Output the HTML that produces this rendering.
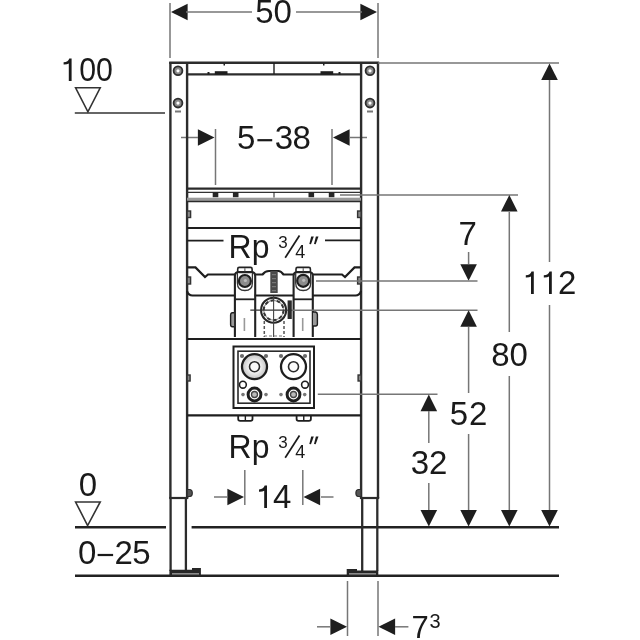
<!DOCTYPE html>
<html><head><meta charset="utf-8"><style>
html,body{margin:0;padding:0;background:#fff;}
svg{display:block;filter:blur(0.45px);font-family:"Liberation Sans",sans-serif;}
text{fill:#1a1a1a;}
</style></head><body>
<svg width="640" height="640" viewBox="0 0 640 640">
<rect width="640" height="640" fill="#fff"/>
<line x1="170" y1="3" x2="170" y2="58" stroke="#767676" stroke-width="1.5"/>
<line x1="378" y1="3" x2="378" y2="58" stroke="#767676" stroke-width="1.5"/>
<polygon points="171,12 187.6,3.6999999999999993 187.6,20.3" fill="#1e1e1e" stroke="none" stroke-width="1"/>
<polygon points="377,12 360.4,3.6999999999999993 360.4,20.3" fill="#1e1e1e" stroke="none" stroke-width="1"/>
<line x1="186" y1="12" x2="252" y2="12" stroke="#767676" stroke-width="1.5"/>
<line x1="296" y1="12" x2="362" y2="12" stroke="#767676" stroke-width="1.5"/>
<text x="255.2" y="23" font-size="33" text-anchor="start" >50</text>
<line x1="215.5" y1="129" x2="215.5" y2="185" stroke="#767676" stroke-width="1.5"/>
<line x1="332" y1="129" x2="332" y2="185" stroke="#767676" stroke-width="1.5"/>
<polygon points="214.5,137.5 197.9,129.2 197.9,145.8" fill="#1e1e1e" stroke="none" stroke-width="1"/>
<polygon points="333,137.5 349.6,129.2 349.6,145.8" fill="#1e1e1e" stroke="none" stroke-width="1"/>
<line x1="181" y1="137.5" x2="198" y2="137.5" stroke="#767676" stroke-width="1.5"/>
<line x1="350" y1="137.5" x2="367" y2="137.5" stroke="#767676" stroke-width="1.5"/>
<text x="237.1" y="149" font-size="33" text-anchor="start" >5</text>
<rect x="257.4" y="139.1" width="14.8" height="2.2" fill="#1a1a1a"/>
<text x="274.7" y="149" font-size="33" text-anchor="start" letter-spacing="-0.5">38</text>
<path d="M71.60000000000001,81 L71.60000000000001,58.4 L69.3,58.4 Q68.3,62.0 63.6,62.3 L63.6,64.6 Q67.2,64.7 68.8,63.6 L68.8,81 Z" fill="#1a1a1a"/>
<text x="79.19999999999999" y="81" font-size="33" text-anchor="start" textLength="33.7" lengthAdjust="spacingAndGlyphs">00</text>
<polygon points="75.6,87.8 100.2,87.8 87.9,111.8" fill="none" stroke="#333" stroke-width="1.6"/>
<line x1="74.8" y1="113" x2="165" y2="113" stroke="#333" stroke-width="1.6"/>
<text x="78.7" y="495.5" font-size="33" text-anchor="start" >0</text>
<polygon points="75.6,502 100.2,502 87.6,525.6" fill="none" stroke="#333" stroke-width="1.6"/>
<line x1="75" y1="527.2" x2="166" y2="527.2" stroke="#222" stroke-width="2.5"/>
<line x1="191.6" y1="527.2" x2="559" y2="527.2" stroke="#222" stroke-width="2.5"/>
<text x="78.1" y="563.8" font-size="33" text-anchor="start" >0</text>
<rect x="97.6" y="553.9" width="15.5" height="2.2" fill="#1a1a1a"/>
<text x="114.4" y="563.8" font-size="33" text-anchor="start" letter-spacing="-0.5">25</text>
<line x1="75" y1="575.8" x2="559" y2="575.8" stroke="#222" stroke-width="2.5"/>
<line x1="170.4" y1="62" x2="170.4" y2="498" stroke="#2c2c2c" stroke-width="2.4"/>
<line x1="187.1" y1="62" x2="187.1" y2="498" stroke="#2c2c2c" stroke-width="2.4"/>
<line x1="361.1" y1="62" x2="361.1" y2="498" stroke="#2c2c2c" stroke-width="2.4"/>
<line x1="378" y1="62" x2="378" y2="498" stroke="#2c2c2c" stroke-width="2.4"/>
<line x1="169.2" y1="62.8" x2="379.2" y2="62.8" stroke="#2c2c2c" stroke-width="2.4"/>
<line x1="187.1" y1="74.3" x2="361.1" y2="74.3" stroke="#2c2c2c" stroke-width="2.2"/>
<line x1="169.2" y1="498" x2="188.3" y2="498" stroke="#2c2c2c" stroke-width="2.2"/>
<line x1="359.9" y1="498" x2="379.2" y2="498" stroke="#2c2c2c" stroke-width="2.2"/>
<line x1="274" y1="63" x2="274" y2="74" stroke="#1e1e1e" stroke-width="1.4"/>
<rect x="214.8" y="71.2" width="12.7" height="3.4" fill="#1e1e1e"/>
<rect x="207.5" y="72" width="2" height="2.5" fill="#1e1e1e"/>
<rect x="223.5" y="63.5" width="1.5" height="2" fill="#1e1e1e"/>
<rect x="320.5" y="71.2" width="12.7" height="3.4" fill="#1e1e1e"/>
<rect x="338.5" y="72" width="2" height="2.5" fill="#1e1e1e"/>
<rect x="323" y="63.5" width="1.5" height="2" fill="#1e1e1e"/>
<circle cx="178" cy="70.8" r="4.4" stroke="#2e2e2e" stroke-width="1.8" fill="#8a8a8a" />
<circle cx="178" cy="70.8" r="1.6" stroke="none" stroke-width="0" fill="#fff" />
<circle cx="178" cy="103.1" r="4.4" stroke="#2e2e2e" stroke-width="1.8" fill="#8a8a8a" />
<circle cx="178" cy="103.1" r="1.6" stroke="none" stroke-width="0" fill="#fff" />
<rect x="175" y="110.5" width="6" height="2" fill="#777"/>
<circle cx="370" cy="70.8" r="4.4" stroke="#2e2e2e" stroke-width="1.8" fill="#8a8a8a" />
<circle cx="370" cy="70.8" r="1.6" stroke="none" stroke-width="0" fill="#fff" />
<circle cx="370" cy="103.1" r="4.4" stroke="#2e2e2e" stroke-width="1.8" fill="#8a8a8a" />
<circle cx="370" cy="103.1" r="1.6" stroke="none" stroke-width="0" fill="#fff" />
<rect x="367" y="110.5" width="6" height="2" fill="#777"/>
<rect x="187.1" y="211" width="3.5" height="6.5" rx="0" stroke="#333" stroke-width="1.4" fill="#888"/>
<rect x="357.6" y="211" width="3.5" height="6.5" rx="0" stroke="#333" stroke-width="1.4" fill="#888"/>
<rect x="187.1" y="277" width="3.5" height="7" rx="0" stroke="#333" stroke-width="1.4" fill="#888"/>
<rect x="357.6" y="277" width="3.5" height="7" rx="0" stroke="#333" stroke-width="1.4" fill="#888"/>
<rect x="187.1" y="375" width="3" height="6" rx="0" stroke="#333" stroke-width="1.4" fill="#888"/>
<rect x="358.1" y="375" width="3" height="6" rx="0" stroke="#333" stroke-width="1.4" fill="#888"/>
<path d="M187.1,489.5 L190,489.5 Q192.3,490 192.3,493 Q192.3,496.5 190,496.5 L187.1,496.5 Z" stroke="#2c2c2c" stroke-width="1.2" fill="#555" />
<path d="M361.1,489.5 L358.2,489.5 Q355.9,490 355.9,493 Q355.9,496.5 358.2,496.5 L361.1,496.5 Z" stroke="#2c2c2c" stroke-width="1.2" fill="#555" />
<line x1="170.6" y1="498" x2="170.6" y2="571" stroke="#2c2c2c" stroke-width="2.3"/>
<line x1="185.9" y1="498" x2="185.9" y2="571" stroke="#2c2c2c" stroke-width="2.3"/>
<line x1="362.2" y1="498" x2="362.2" y2="571" stroke="#2c2c2c" stroke-width="2.3"/>
<line x1="377.3" y1="498" x2="377.3" y2="571" stroke="#2c2c2c" stroke-width="2.3"/>
<path d="M169.4,576 L169.4,569.8 L192,569.8 L192,568 L200.9,568 L200.9,576 Z" stroke="none" stroke-width="0" fill="#262626" />
<rect x="172" y="573" width="27" height="1.6" fill="#8a8a8a"/>
<path d="M346.7,576 L346.7,568.9 L357,568.9 L357,570.4 L378.3,570.4 L378.3,576 Z" stroke="none" stroke-width="0" fill="#262626" />
<rect x="349" y="573" width="27" height="1.6" fill="#8a8a8a"/>
<line x1="187.1" y1="188.6" x2="361.1" y2="188.6" stroke="#2a2a2a" stroke-width="2.4"/>
<line x1="187.1" y1="192.4" x2="361.1" y2="192.4" stroke="#333" stroke-width="1.1"/>
<rect x="187" y="197.7" width="174" height="3.2" fill="#999"/>
<line x1="187.1" y1="201.6" x2="361.1" y2="201.6" stroke="#2a2a2a" stroke-width="1.5"/>
<rect x="212.7" y="192" width="5.6" height="5.2" fill="#262626"/>
<rect x="232.89999999999998" y="192" width="5.6" height="5.2" fill="#262626"/>
<rect x="308.5" y="192" width="5.6" height="5.2" fill="#262626"/>
<rect x="328.8" y="192" width="5.6" height="5.2" fill="#262626"/>
<line x1="274" y1="192" x2="274" y2="197.5" stroke="#1e1e1e" stroke-width="1"/>
<line x1="187.1" y1="228" x2="361.1" y2="228" stroke="#1e1e1e" stroke-width="2.2"/>
<text x="228.6" y="257.7" font-size="33" text-anchor="start" textLength="40.8" lengthAdjust="spacingAndGlyphs">Rp</text>
<text x="278.3" y="248.2" font-size="17" text-anchor="start" >3</text>
<text x="295.2" y="257.9" font-size="18" text-anchor="start" >4</text>
<line x1="285.2" y1="257.8" x2="299.5" y2="235.5" stroke="#1a1a1a" stroke-width="1.7"/>
<path d="M309.3,244 L311.2,236.6 L313.8,236.6 L311.0,244.2 Z" stroke="none" stroke-width="0" fill="#1a1a1a" />
<path d="M314.0,244 L315.9,236.6 L318.5,236.6 L315.7,244.2 Z" stroke="none" stroke-width="0" fill="#1a1a1a" />
<line x1="187" y1="240.6" x2="223.5" y2="240.6" stroke="#1e1e1e" stroke-width="1.6"/>
<line x1="325" y1="240.4" x2="361" y2="240.4" stroke="#1e1e1e" stroke-width="1.6"/>
<path d="M187,267.4 L195.5,267.4 L205,277 L208,274.5 L235.3,274.5" stroke="#1e1e1e" stroke-width="2.2" fill="none" />
<path d="M254.5,274.5 L262.5,274.5 Q265,271 269,271 L278.4,271 Q281,271 283.5,274.5 L293.8,274.5" stroke="#1e1e1e" stroke-width="2.2" fill="none" />
<path d="M312.8,274.5 L342,274.5 L345,277 L354.5,267.4 L361,267.4" stroke="#1e1e1e" stroke-width="2.2" fill="none" />
<path d="M187,291 Q188.5,295.5 192.5,295.5 L234.5,295.5" stroke="#1e1e1e" stroke-width="2.2" fill="none" />
<line x1="254.5" y1="295.5" x2="293.8" y2="295.5" stroke="#1e1e1e" stroke-width="2.2"/>
<path d="M313,295.5 L355.5,295.5 Q359.5,295.5 361,291" stroke="#1e1e1e" stroke-width="2.2" fill="none" />
<rect x="235.9" y="272" width="18.299999999999983" height="65" fill="#fff"/>
<path d="M234.9,337 L234.9,276 Q234.9,272 238.9,272 L251.2,272 Q255.2,272 255.2,276 L255.2,337" stroke="#222" stroke-width="2.1" fill="none" />
<path d="M237.4,273 L237.4,283 Q237.4,290.5 244.9,290.5 Q252.4,290.5 252.4,283 L252.4,273" stroke="#333" stroke-width="1.3" fill="none" />
<rect x="237.70000000000002" y="267.4" width="14.4" height="5" rx="1.5" stroke="#222" stroke-width="1.6" fill="none"/>
<line x1="244.9" y1="268.2" x2="244.9" y2="271.6" stroke="#444" stroke-width="1"/>
<circle cx="244.9" cy="281.0" r="6.0" stroke="#1e1e1e" stroke-width="2.2" fill="#8c8c8c" />
<circle cx="245.4" cy="280.5" r="1.6" stroke="none" stroke-width="0" fill="#bbb" />
<line x1="234.9" y1="299.3" x2="255.2" y2="299.3" stroke="#222" stroke-width="1.8"/>
<line x1="244.4" y1="318" x2="244.4" y2="331" stroke="#999" stroke-width="1.6"/>
<rect x="294.6" y="272" width="17.19999999999999" height="65" fill="#fff"/>
<path d="M293.6,337 L293.6,276 Q293.6,272 297.6,272 L308.8,272 Q312.8,272 312.8,276 L312.8,337" stroke="#222" stroke-width="2.1" fill="none" />
<path d="M295.7,273 L295.7,283 Q295.7,290.5 303.2,290.5 Q310.7,290.5 310.7,283 L310.7,273" stroke="#333" stroke-width="1.3" fill="none" />
<rect x="296.0" y="267.4" width="14.4" height="5" rx="1.5" stroke="#222" stroke-width="1.6" fill="none"/>
<line x1="303.2" y1="268.2" x2="303.2" y2="271.6" stroke="#444" stroke-width="1"/>
<circle cx="303.2" cy="280.8" r="6.0" stroke="#1e1e1e" stroke-width="2.2" fill="#8c8c8c" />
<circle cx="303.7" cy="280.3" r="1.6" stroke="none" stroke-width="0" fill="#bbb" />
<line x1="293.6" y1="299.3" x2="312.8" y2="299.3" stroke="#222" stroke-width="1.8"/>
<line x1="302.7" y1="318" x2="302.7" y2="331" stroke="#999" stroke-width="1.6"/>
<path d="M234.1,312.7 L232,312.7 Q230.6,313 230.6,315 L230.6,324.5 Q230.6,326.7 232.5,326.7 L234.1,326.7" stroke="#1e1e1e" stroke-width="1.4" fill="#999" />
<path d="M313,312 L315.5,312 Q317.4,312.5 317.4,314.5 L317.4,324 Q317.4,326 315.5,326 L313,326" stroke="#1e1e1e" stroke-width="1.4" fill="#999" />
<rect x="270.3" y="271" width="7.4" height="22" fill="#4a4a4a"/>
<rect x="272" y="274" width="4" height="1.2" fill="#777"/>
<rect x="272" y="278" width="4" height="1.2" fill="#777"/>
<rect x="272" y="282" width="4" height="1.2" fill="#777"/>
<rect x="272" y="286" width="4" height="1.2" fill="#777"/>
<rect x="272" y="290" width="4" height="1.2" fill="#777"/>
<circle cx="273.6" cy="310.2" r="12.5" stroke="#262626" stroke-width="2.1" fill="none" />
<circle cx="273.6" cy="310.2" r="9.9" stroke="#999" stroke-width="1.2" fill="none" />
<circle cx="273.6" cy="310.2" r="9.9" stroke="#333" stroke-width="2.0" fill="none" stroke-dasharray="3.5 2.7"/>
<line x1="250.3" y1="310.2" x2="287" y2="310.2" stroke="#333" stroke-width="1.2"/>
<line x1="287" y1="310.2" x2="477.5" y2="310.2" stroke="#767676" stroke-width="1.5"/>
<line x1="273.6" y1="296" x2="273.6" y2="337" stroke="#444" stroke-width="1.1"/>
<rect x="287.6" y="300.4" width="4.2" height="18.6" fill="#2a2a2a"/>
<line x1="264.3" y1="321" x2="264.3" y2="337" stroke="#555" stroke-width="1.5" stroke-dasharray="3 2"/>
<line x1="284" y1="321" x2="284" y2="337" stroke="#555" stroke-width="1.5" stroke-dasharray="3 2"/>
<line x1="264" y1="336" x2="284" y2="336" stroke="#777" stroke-width="1.2" stroke-dasharray="3 2"/>
<line x1="187.1" y1="339" x2="361.1" y2="339" stroke="#1e1e1e" stroke-width="2.2"/>
<line x1="187.1" y1="415.3" x2="361.1" y2="415.3" stroke="#1e1e1e" stroke-width="2.2"/>
<rect x="233.5" y="346.5" width="80.5" height="61.5" rx="0" stroke="#1e1e1e" stroke-width="2" fill="none"/>
<rect x="238" y="351.2" width="72" height="52" rx="0" stroke="#2a2a2a" stroke-width="1.6" fill="none"/>
<radialGradient id="rg"><stop offset="0.4" stop-color="#f8f8f8"/><stop offset="0.8" stop-color="#d4d4d4"/><stop offset="1" stop-color="#c8c8c8"/></radialGradient>
<circle cx="254.5" cy="366.7" r="12.5" stroke="#1e1e1e" stroke-width="2.3" fill="url(#rg)" />
<circle cx="254.5" cy="366.7" r="5.0" stroke="#2a2a2a" stroke-width="1.6" fill="#fafafa" />
<circle cx="254.5" cy="394.5" r="6.4" stroke="#1e1e1e" stroke-width="3.0" fill="#fff" />
<circle cx="254.5" cy="394.5" r="3.0" stroke="#444" stroke-width="1.3" fill="#bbb" />
<circle cx="293.5" cy="366.7" r="12.5" stroke="#1e1e1e" stroke-width="2.3" fill="#fff" />
<circle cx="293.5" cy="366.7" r="5.0" stroke="#2a2a2a" stroke-width="1.6" fill="#fafafa" />
<circle cx="293.5" cy="394.5" r="6.4" stroke="#1e1e1e" stroke-width="3.0" fill="#fff" />
<circle cx="293.5" cy="394.5" r="3.0" stroke="#444" stroke-width="1.3" fill="#bbb" />
<circle cx="242.9" cy="384.7" r="3.4" stroke="#1e1e1e" stroke-width="1.6" fill="none" />
<circle cx="305" cy="384.7" r="3.4" stroke="#1e1e1e" stroke-width="1.6" fill="none" />
<circle cx="243" cy="394.6" r="1.8" stroke="#666" stroke-width="0" fill="#777" />
<circle cx="266" cy="394.6" r="1.8" stroke="#666" stroke-width="0" fill="#777" />
<circle cx="281" cy="394.6" r="1.8" stroke="#666" stroke-width="0" fill="#777" />
<circle cx="304.7" cy="394.6" r="1.8" stroke="#666" stroke-width="0" fill="#777" />
<circle cx="242" cy="356" r="2.1" stroke="#666" stroke-width="0" fill="#6a6a6a" />
<circle cx="266" cy="356" r="2.1" stroke="#666" stroke-width="0" fill="#6a6a6a" />
<circle cx="281" cy="356" r="2.1" stroke="#666" stroke-width="0" fill="#6a6a6a" />
<circle cx="305" cy="356" r="2.1" stroke="#666" stroke-width="0" fill="#6a6a6a" />
<path d="M238.2,415 L238.2,419 Q238.2,420.8 240.2,420.8 L250.5,420.8 Q252.5,420.8 252.5,419 L252.5,415" stroke="#1e1e1e" stroke-width="1.8" fill="none" />
<line x1="245.35" y1="415" x2="245.35" y2="420.5" stroke="#1e1e1e" stroke-width="1.4"/>
<path d="M296.6,415 L296.6,419 Q296.6,420.8 298.6,420.8 L308.90000000000003,420.8 Q310.90000000000003,420.8 310.90000000000003,419 L310.90000000000003,415" stroke="#1e1e1e" stroke-width="1.8" fill="none" />
<line x1="303.75" y1="415" x2="303.75" y2="420.5" stroke="#1e1e1e" stroke-width="1.4"/>
<line x1="317.8" y1="394.2" x2="437.5" y2="394.2" stroke="#767676" stroke-width="1.5"/>
<text x="228.6" y="457.7" font-size="33" text-anchor="start" textLength="40.8" lengthAdjust="spacingAndGlyphs">Rp</text>
<text x="278.3" y="448.2" font-size="17" text-anchor="start" >3</text>
<text x="295.2" y="457.9" font-size="18" text-anchor="start" >4</text>
<line x1="285.2" y1="457.8" x2="299.5" y2="435.5" stroke="#1a1a1a" stroke-width="1.7"/>
<path d="M309.3,444 L311.2,436.6 L313.8,436.6 L311.0,444.2 Z" stroke="none" stroke-width="0" fill="#1a1a1a" />
<path d="M314.0,444 L315.9,436.6 L318.5,436.6 L315.7,444.2 Z" stroke="none" stroke-width="0" fill="#1a1a1a" />
<line x1="244.8" y1="470" x2="244.8" y2="505" stroke="#767676" stroke-width="1.5"/>
<line x1="302.8" y1="470" x2="302.8" y2="505" stroke="#767676" stroke-width="1.5"/>
<polygon points="244,497 227.4,488.7 227.4,505.3" fill="#1e1e1e" stroke="none" stroke-width="1"/>
<polygon points="303.5,497 320.1,488.7 320.1,505.3" fill="#1e1e1e" stroke="none" stroke-width="1"/>
<line x1="214" y1="497" x2="227" y2="497" stroke="#767676" stroke-width="1.5"/>
<line x1="321" y1="497" x2="333.5" y2="497" stroke="#767676" stroke-width="1.5"/>
<path d="M267.0,508.1 L267.0,485.5 L264.70000000000005,485.5 Q263.70000000000005,489.1 259.0,489.4 L259.0,491.7 Q262.6,491.8 264.20000000000005,490.7 L264.20000000000005,508.1 Z" fill="#1a1a1a"/>
<text x="273" y="508.1" font-size="33" text-anchor="start" >4</text>
<line x1="347.5" y1="581" x2="347.5" y2="636" stroke="#767676" stroke-width="1.5"/>
<line x1="378" y1="581" x2="378" y2="636" stroke="#767676" stroke-width="1.5"/>
<polygon points="347,626.8 330.4,618.5 330.4,635.0999999999999" fill="#1e1e1e" stroke="none" stroke-width="1"/>
<polygon points="378.5,626.8 395.1,618.5 395.1,635.0999999999999" fill="#1e1e1e" stroke="none" stroke-width="1"/>
<line x1="317" y1="626.8" x2="330" y2="626.8" stroke="#767676" stroke-width="1.5"/>
<line x1="395" y1="626.8" x2="408.4" y2="626.8" stroke="#767676" stroke-width="1.5"/>
<text x="411.6" y="638.3" font-size="31" text-anchor="start" >7</text>
<text x="429.6" y="627.6" font-size="20" text-anchor="start" >3</text>
<line x1="378" y1="63" x2="559" y2="63" stroke="#767676" stroke-width="1.5"/>
<polygon points="549.5,63.5 541.2,80.1 557.8,80.1" fill="#1e1e1e" stroke="none" stroke-width="1"/>
<polygon points="549.5,526.5 541.2,509.9 557.8,509.9" fill="#1e1e1e" stroke="none" stroke-width="1"/>
<line x1="549.5" y1="80" x2="549.5" y2="262" stroke="#767676" stroke-width="1.5"/>
<line x1="549.5" y1="305" x2="549.5" y2="510" stroke="#767676" stroke-width="1.5"/>
<path d="M533.8,294 L533.8,271.4 L531.5,271.4 Q530.5,275.0 525.8,275.29999999999995 L525.8,277.59999999999997 Q529.4,277.7 531.0,276.59999999999997 L531.0,294 Z" fill="#1a1a1a"/>
<path d="M551.8,294 L551.8,271.4 L549.5,271.4 Q548.5,275.0 543.8,275.29999999999995 L543.8,277.59999999999997 Q547.4,277.7 549.0,276.59999999999997 L549.0,294 Z" fill="#1a1a1a"/>
<text x="557.9" y="294" font-size="33" text-anchor="start" >2</text>
<line x1="340" y1="195" x2="518" y2="195" stroke="#767676" stroke-width="1.5"/>
<polygon points="509.3,195 501.0,211.6 517.6,211.6" fill="#1e1e1e" stroke="none" stroke-width="1"/>
<polygon points="509.3,526.5 501.0,509.9 517.6,509.9" fill="#1e1e1e" stroke="none" stroke-width="1"/>
<line x1="509.3" y1="212" x2="509.3" y2="332" stroke="#767676" stroke-width="1.5"/>
<line x1="509.3" y1="376" x2="509.3" y2="510" stroke="#767676" stroke-width="1.5"/>
<text x="491.2" y="365.5" font-size="33" text-anchor="start" >80</text>
<text x="458.6" y="245" font-size="33" text-anchor="start" >7</text>
<polygon points="468.6,280.8 460.3,264.2 476.90000000000003,264.2" fill="#1e1e1e" stroke="none" stroke-width="1"/>
<line x1="468.6" y1="252" x2="468.6" y2="264" stroke="#767676" stroke-width="1.5"/>
<line x1="316" y1="281" x2="477.5" y2="281" stroke="#767676" stroke-width="1.5"/>
<polygon points="468.6,310.2 460.3,326.8 476.90000000000003,326.8" fill="#1e1e1e" stroke="none" stroke-width="1"/>
<polygon points="468.6,526.5 460.3,509.9 476.90000000000003,509.9" fill="#1e1e1e" stroke="none" stroke-width="1"/>
<line x1="468.6" y1="327" x2="468.6" y2="393" stroke="#767676" stroke-width="1.5"/>
<line x1="468.6" y1="434" x2="468.6" y2="510" stroke="#767676" stroke-width="1.5"/>
<text x="449.7" y="424.7" font-size="33" text-anchor="start" letter-spacing="1">52</text>
<polygon points="428.8,394.6 420.5,411.20000000000005 437.1,411.20000000000005" fill="#1e1e1e" stroke="none" stroke-width="1"/>
<polygon points="428.8,526.5 420.5,509.9 437.1,509.9" fill="#1e1e1e" stroke="none" stroke-width="1"/>
<line x1="428.8" y1="411" x2="428.8" y2="443" stroke="#767676" stroke-width="1.5"/>
<line x1="428.8" y1="483" x2="428.8" y2="510" stroke="#767676" stroke-width="1.5"/>
<text x="410.7" y="473.6" font-size="33" text-anchor="start" >32</text>
</svg></body></html>
